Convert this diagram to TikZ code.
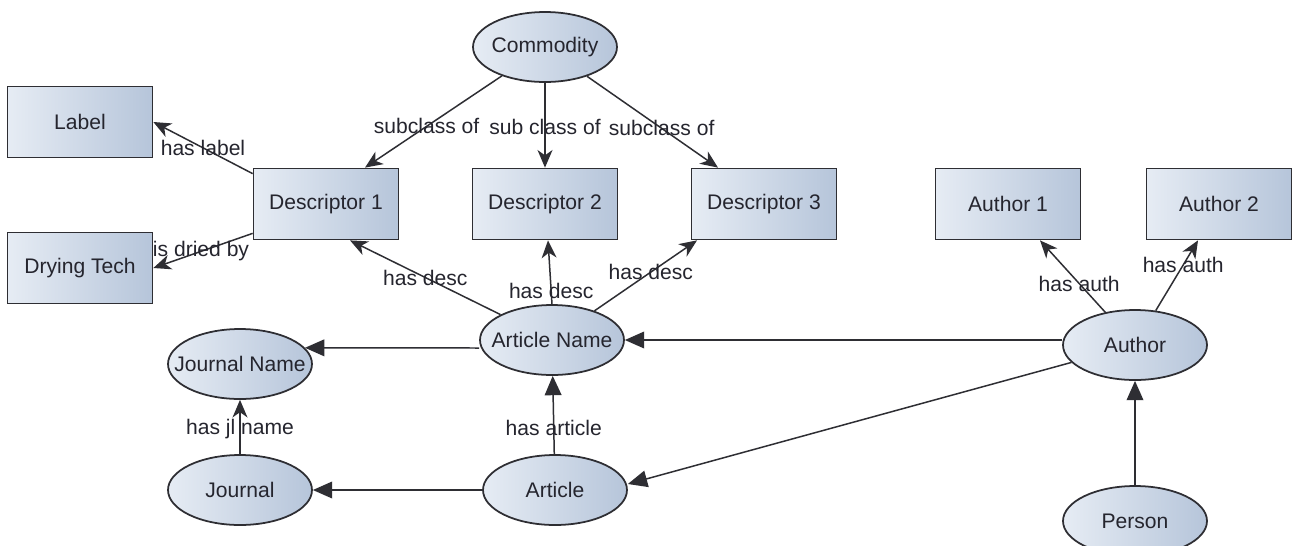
\documentclass[tikz,border=0pt]{standalone}
\usepackage{fontspec}
\setmainfont{Liberation Sans}
\usetikzlibrary{calc,arrows.meta,shapes.geometric}
\definecolor{fillA}{HTML}{E6ECF4}
\definecolor{fillB}{HTML}{B6C5DA}
\definecolor{edgeC}{HTML}{2E2E33}
\definecolor{txtC}{HTML}{25252E}
\newcommand\zwtext[1]{\makebox[0pt][c]{#1}}
\tikzset{
  base/.style={draw=edgeC, line width=1pt, left color=fillA, right color=fillB, text=txtC,
    font=\fontsize{12}{14}\selectfont, inner sep=0pt},
  boxnode/.style={base, rectangle, minimum width=2.9cm, minimum height=1.42cm},
  ellnode/.style={base, ellipse, minimum width=2.88cm, minimum height=1.4cm},
  thinarr/.style={draw=edgeC, line width=0.85pt, -{Stealth[length=10pt,width=8.5pt,inset=3pt]}},
  bigarr/.style={draw=edgeC, line width=0.85pt, -{Triangle[length=11pt,width=9.5pt]}},
  elabel/.style={text=txtC, font=\fontsize{12}{14}\selectfont, inner sep=0pt}
}
\begin{document}
\begin{tikzpicture}[x=0.02cm, y=-0.02cm]
\useasboundingbox[fill=white] (0,0) rectangle (1298,545);
% nodes
\node[ellnode] (com) at (545,47) {\zwtext{Commodity}};
\node[boxnode] (lab) at (80,122) {Label};
\node[boxnode] (dry) at (80,268) {Drying Tech};
\node[boxnode] (d1) at (326,204) {Descriptor 1};
\node[boxnode] (d2) at (545,204) {Descriptor 2};
\node[boxnode] (d3) at (764,204) {Descriptor 3};
\node[boxnode] (a1) at (1008,204) {Author 1};
\node[boxnode] (a2) at (1219,204) {Author 2};
\node[ellnode] (an) at (552,340) {\zwtext{Article Name}};
\node[ellnode] (jn) at (240,364) {\zwtext{Journal Name}};
\node[ellnode] (jour) at (240,490) {\zwtext{Journal}};
\node[ellnode] (art) at (555,490) {\zwtext{Article}};
\node[ellnode] (auth) at (1135,345) {\zwtext{Author}};
\node[ellnode] (pers) at (1135,521) {\zwtext{Person}};
% subclass edges
\draw[thinarr] (com) -- ($(d1.north)+(39,0)$) node[elabel,pos=0.55] {subclass of};
\draw[thinarr] (com) -- (d2.north) node[elabel,pos=0.52] {sub class of};
\draw[thinarr] (com) -- ($(d3.north)+(-46,0)$) node[elabel,pos=0.57] {subclass of};
% descriptor 1 edges
\draw[thinarr] ($(d1.north west)+(0,6)$) -- (lab.east) node[elabel,pos=0.5] {has label};
\draw[thinarr] ($(d1.south west)+(0,-7)$) -- (dry.east) node[elabel,pos=0.52] {is dried by};
% has desc
\draw[thinarr] (an) -- ($(d1.south)+(24,0)$) node[elabel,pos=0.5] {has desc};
\draw[thinarr] (an.north) -- ($(d2.south)+(3,0)$) node[elabel,pos=0.2] {has desc};
\draw[thinarr] (an) -- ($(d3.south)+(-67,0)$) node[elabel,pos=0.55] {has desc};
% author edges
\draw[thinarr] (auth) -- ($(a1.south)+(32,0)$) node[elabel,pos=0.4] {has auth};
\draw[thinarr] (auth) -- ($(a2.south)+(-21,0)$) node[elabel,pos=0.65] {has auth};
\draw[thinarr] (jour) -- (jn) node[elabel,pos=0.46] {has jl name};
\draw[bigarr] (art) -- (an) node[elabel,pos=0.33] {has article};
% big horizontal arrows
\draw[bigarr] ($(an.west)+(0,8)$) -- (jn.14);
\draw[bigarr] (art) -- (jour);
\draw[bigarr] (an.east -| auth.west) -- (an.east);
\draw[bigarr] (auth) -- ($(art.east)+(0,-6)$);
\draw[bigarr] (pers) -- (auth);
\end{tikzpicture}
\end{document}
